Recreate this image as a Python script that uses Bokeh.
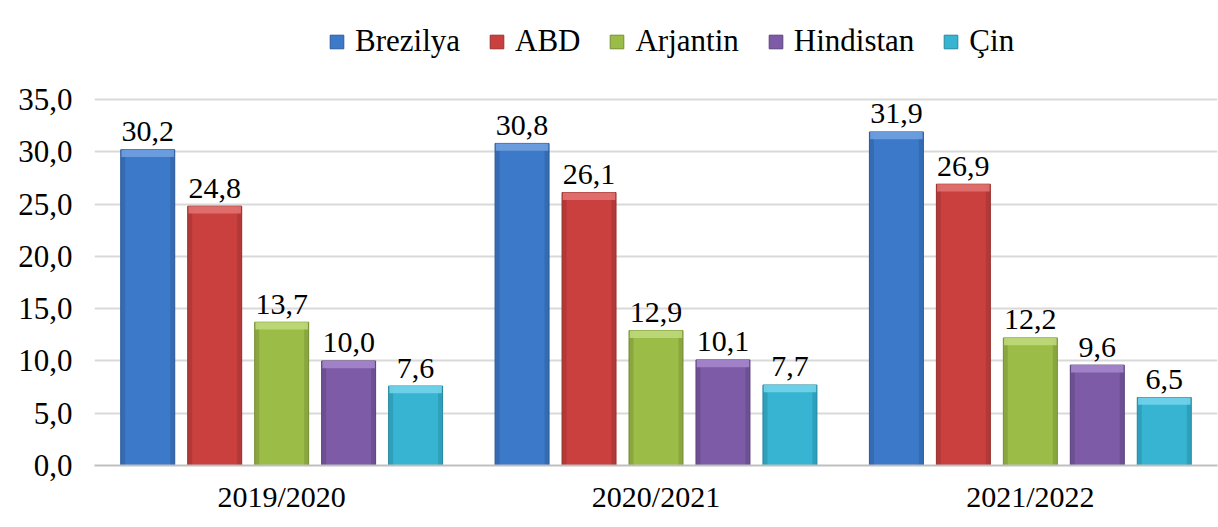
from bokeh.plotting import figure
from bokeh.models import Range1d, FixedTicker, CustomJSTickFormatter, Legend, LegendItem, ColumnDataSource
from bokeh.core.properties import value
from bokeh.embed import file_html
from bokeh.resources import INLINE

# ---- data ----
seasons = ["2019/2020", "2020/2021", "2021/2022"]
countries = ["Brezilya", "ABD", "Arjantin", "Hindistan", "Çin"]
brezilya = [30.2, 30.8, 31.9]
abd = [24.8, 26.1, 26.9]
arjantin = [13.7, 12.9, 12.2]
hindistan = [10.0, 10.1, 9.6]
cin = [7.6, 7.7, 6.5]
y_ticks = [0, 5, 10, 15, 20, 25, 30, 35]

series = [brezilya, abd, arjantin, hindistan, cin]
colors = ["#3D79C9", "#C9403E", "#9CBC48", "#7D5BA6", "#36B4D1"]
dark = ["#2B5A98", "#973030", "#748E33", "#5C427D", "#25889F"]
light = ["#6FA0E0", "#E07270", "#BFD97A", "#A585CC", "#72D3EA"]

FONT = "'Liberation Serif', 'Times New Roman', serif"
W, H = 1218, 527
pitch = 0.1789
bw = 0.1442

# frame extends above the top tick so that the legend can sit inside it
p = figure(width=W, height=H, output_backend="svg", toolbar_location=None,
           x_range=Range1d(-0.5, 2.5), y_range=Range1d(0, 43.51),
           min_border_left=94, min_border_right=1, min_border_top=10, min_border_bottom=62)
p.outline_line_color = None
p.background_fill_color = "white"
p.border_fill_color = "white"

p.xgrid.grid_line_color = None
p.ygrid.grid_line_color = "#D9D9D9"
p.ygrid.grid_line_width = 2

items = []
for k, (name, vals) in enumerate(zip(countries, series)):
    xs = [i + (k - 2) * pitch for i in range(len(seasons))]
    src = ColumnDataSource(dict(x=xs, top=vals,
                                cap=[v - 0.7 for v in vals],
                                lab=[f"{v:.1f}".replace(".", ",") for v in vals]))
    r = p.vbar(x="x", top="top", bottom=0, width=bw, source=src,
               fill_color=colors[k], line_color=dark[k], line_width=1)
    # edge shading
    p.vbar(x=[x - bw / 2 + 0.006 for x in xs], top=vals, bottom=0, width=0.012,
           fill_color=dark[k], fill_alpha=0.45, line_color=None)
    p.vbar(x=[x + bw / 2 - 0.006 for x in xs], top=vals, bottom=0, width=0.012,
           fill_color=dark[k], fill_alpha=0.45, line_color=None)
    # top bevel highlight
    p.vbar(x="x", top="top", bottom="cap", width=bw - 0.004, source=src,
           fill_color=light[k], line_color=None, fill_alpha=0.9)
    p.text(x="x", y="top", text="lab", source=src, text_align="center",
           text_baseline="alphabetic", y_offset=-18,
           text_font=value(FONT), text_font_size="30px", text_color="black")
    items.append(LegendItem(label=name, renderers=[r]))

# axes
p.yaxis.ticker = FixedTicker(ticks=y_ticks)
p.yaxis.formatter = CustomJSTickFormatter(code="return tick.toFixed(1).replace('.', ',');")
p.yaxis.axis_line_color = None
p.yaxis.major_tick_line_color = None
p.yaxis.minor_tick_line_color = None
p.yaxis.major_label_standoff = 16
p.yaxis.major_label_text_font = FONT
p.yaxis.major_label_text_font_size = "31px"
p.yaxis.major_label_text_color = "black"

p.xaxis.ticker = FixedTicker(ticks=list(range(len(seasons))))
p.xaxis.major_label_overrides = {i: s for i, s in enumerate(seasons)}
p.xaxis.axis_line_color = "#BFBFBF"
p.xaxis.axis_line_width = 2
p.xaxis.major_tick_line_color = None
p.xaxis.minor_tick_line_color = None
p.xaxis.major_label_standoff = 8
p.xaxis.major_label_text_font = FONT
p.xaxis.major_label_text_font_size = "30px"
p.xaxis.major_label_text_color = "black"

legend = Legend(items=items, orientation="horizontal", location=(234, 406),
                label_text_font=FONT, label_text_font_size="31px",
                label_text_color="black", glyph_width=17, glyph_height=17,
                label_standoff=10, spacing=28, padding=0, margin=0,
                border_line_color=None, background_fill_alpha=0)
p.add_layout(legend, "center")

open("out.html", "w").write(file_html(p, INLINE))
